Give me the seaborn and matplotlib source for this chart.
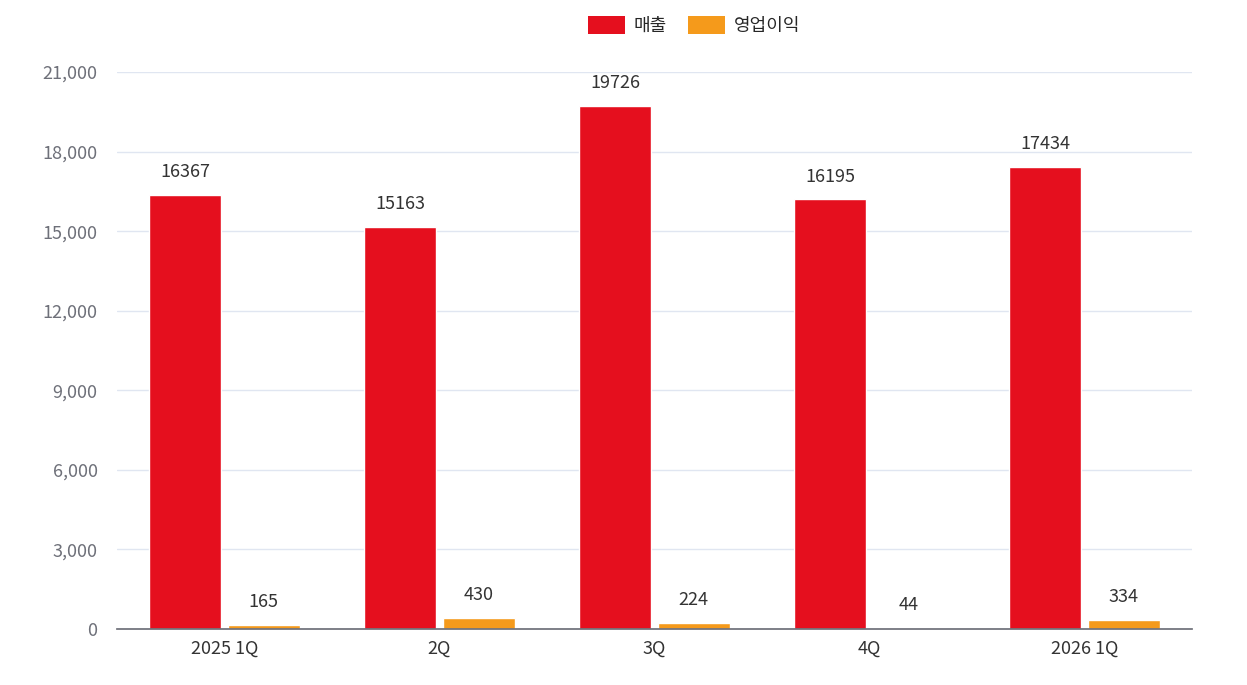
import matplotlib
matplotlib.use("Agg")
import matplotlib.pyplot as plt
import seaborn as sns
import pandas as pd
import numpy as np
from matplotlib.ticker import FixedLocator

categories = ["2025 1Q", "2Q", "3Q", "4Q", "2026 1Q"]
sales = [16367, 15163, 19726, 16195, 17434]
op_profit = [165, 430, 224, 44, 334]
series_names = ["매출", "영업이익"]
colors = ["#E50F1E", "#F59A1B"]

sns.set_theme(style="white")
plt.rcParams['font.family'] = ['Noto Sans CJK KR', 'DejaVu Sans']

df = pd.DataFrame({
    "cat": categories * 2,
    "val": sales + op_profit,
    "series": [series_names[0]] * 5 + [series_names[1]] * 5,
})

fig = plt.figure(figsize=(12.47, 6.85), dpi=100)
ax = fig.add_axes([117/1247, 1-629/685, (1192-117)/1247, (629-72)/685])
sns.barplot(data=df, x="cat", y="val", hue="series", palette=colors,
            width=0.73, gap=0.08, ax=ax, legend=True, saturation=1)

ax.set_ylim(0, 21000)
ax.set_xlim(-0.5, 4.5)
ax.set_yticks(np.arange(0, 21001, 3000))
ax.set_yticklabels([f"{v:,}" for v in range(0, 21001, 3000)], color="#6E7079", fontsize=13)
ax.tick_params(axis="y", length=0, pad=14)
ax.tick_params(axis="x", length=0, labelsize=13, colors="#333333", pad=8)
ax.xaxis.set_minor_locator(FixedLocator(np.arange(-0.5, 5, 1)))
ax.tick_params(axis="x", which="minor", length=6, color="#6E7079", width=1.2)
ax.grid(axis="y", color="#E0E6F1", linewidth=1)
ax.set_axisbelow(True)
for s in ["top", "right", "left"]:
    ax.spines[s].set_visible(False)
ax.spines["bottom"].set_color("#6E7079")
ax.set_xlabel("")
ax.set_ylabel("")

for cont in ax.containers:
    ax.bar_label(cont, labels=[f"{int(v)}" for v in cont.datavalues],
                 padding=10, fontsize=13, color="#333333")

leg = ax.legend(loc="upper center", bbox_to_anchor=(0.537, 1.13), ncol=2,
                frameon=False, fontsize=13, handlelength=2.0, handleheight=1.2,
                columnspacing=1.2, handletextpad=0.5)
for h in leg.legend_handles:
    h.set_linewidth(0)

fig.savefig("out.png", dpi=100)
